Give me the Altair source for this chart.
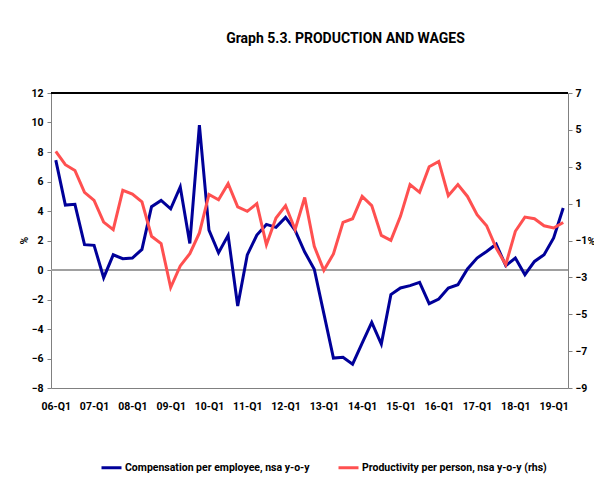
import altair as alt
import pandas as pd

years = [f"{y:02d}" for y in range(6, 20)]
quarters = [f"{y}-Q{q}" for y in years for q in range(1, 5)][:54]

comp = [7.45, 4.4, 4.45, 1.72, 1.67, -0.52, 1.03, 0.77, 0.81, 1.4,
        4.29, 4.72, 4.15, 5.63, 1.8, 9.82, 2.71, 1.17, 2.35, -2.44,
        1.02, 2.37, 3.09, 2.89, 3.57, 2.68, 1.22, 0.05, -2.96, -5.97,
        -5.92, -6.38, -4.95, -3.55, -5.02, -1.67, -1.22, -1.06, -0.84, -2.28,
        -1.97, -1.22, -1.0, 0.07, 0.81, 1.26, 1.75, 0.29, 0.81, -0.32,
        0.58, 1.04, 2.17, 4.2]

prod = [3.83, 3.11, 2.8, 1.61, 1.18, 0.0, -0.41, 1.72, 1.52, 1.09,
        -0.77, -1.17, -3.55, -2.38, -1.71, -0.59, 1.5, 1.21, 2.08, 0.82,
        0.58, 1.0, -1.23, 0.22, 0.89, -0.4, 1.33, -1.32, -2.62, -1.73,
        -0.02, 0.18, 1.39, 0.89, -0.72, -0.99, 0.31, 2.03, 1.61, 3.0,
        3.29, 1.43, 2.03, 1.39, 0.4, -0.2, -1.41, -2.31, -0.5, 0.27,
        0.18, -0.2, -0.32, -0.02]

s1 = "Compensation per employee, nsa y-o-y"
s2 = "Productivity per person, nsa y-o-y (rhs)"
x_labels = [q for q in quarters if q.endswith("Q1")]
left_ticks = list(range(-8, 13, 2))
right_ticks = list(range(-9, 8, 2))

df = pd.DataFrame({"q": quarters, "comp": comp, "prod": prod})

FONT = "Roboto"

x_enc = alt.X("q:N", sort=quarters, title=None,
              scale=alt.Scale(type="point", padding=0.5),
              axis=alt.Axis(values=x_labels, labelAngle=0, ticks=False,
                            domainColor="#808080", labelPadding=13,
                            labelOverlap=False))

color_scale = alt.Scale(domain=[s1, s2], range=["#000099", "#FF5050"])
legend = alt.Legend(title=None, orient="none", direction="horizontal",
                    legendX=49, legendY=363, symbolType="stroke",
                    symbolSize=400, symbolStrokeWidth=3, labelOffset=2,
                    columnPadding=22, labelLimit=400)

left_axis = alt.Axis(values=left_ticks, grid=False, tickSize=4,
                     domainColor="#808080", tickColor="#808080",
                     labelPadding=4, labelOverlap=False, tickCount=11,
                     titleAngle=-90, titleX=-27, titleY=147,
                     titleAlign="center", titleBaseline="middle")
left_scale = alt.Scale(domain=[-8, 12], nice=False, zero=False)

blue = alt.Chart(df).mark_line(strokeWidth=3).encode(
    x=x_enc,
    y=alt.Y("comp:Q", title="%", scale=left_scale, axis=left_axis),
    color=alt.Color("s:N", scale=color_scale, legend=legend),
).transform_calculate(s=f"'{s1}'")

zero_rule = alt.Chart(df).mark_rule(color="#A0A0A0", strokeWidth=1.5).encode(
    y=alt.YDatum(0, title="%", scale=left_scale, axis=left_axis))
top_rule = alt.Chart(df).mark_rule(color="#000000", strokeWidth=1.5).encode(
    y=alt.YDatum(12, title="%", scale=left_scale, axis=left_axis))

left = alt.layer(zero_rule, top_rule, blue)

red = alt.Chart(df).mark_line(strokeWidth=3).encode(
    x=x_enc,
    y=alt.Y("prod:Q", title="%",
            scale=alt.Scale(domain=[-9, 7], nice=False, zero=False),
            axis=alt.Axis(orient="right", values=right_ticks, grid=False,
                          tickSize=4, domainColor="#808080",
                          tickColor="#808080", labelPadding=3,
                          labelOverlap=False,
                          titleAngle=0, titleX=19, titleY=148,
                          titleAlign="left", titleBaseline="middle")),
    color=alt.Color("s:N", scale=color_scale, legend=legend),
).transform_calculate(s=f"'{s2}'")

chart = alt.layer(left, red).resolve_scale(y="independent").properties(
    width=517, height=295,
    autosize=alt.AutoSizeParams(type="none"),
    padding={"left": 43, "top": 85, "right": 26, "bottom": 100},
    title=alt.TitleParams("Graph 5.3. PRODUCTION AND WAGES", anchor="middle",
                          frame="group", dx=36, offset=42, fontSize=14,
                          font=FONT, fontWeight="bold", color="#000000"),
).configure_view(stroke=None).configure_axis(
    labelFont=FONT, labelFontSize=10.5, labelFontWeight="bold",
    labelColor="#000000", titleFont=FONT, titleFontSize=10.5,
    titleFontWeight="bold", titleColor="#000000",
).configure_legend(
    labelFont=FONT, labelFontSize=10.5, labelFontWeight="bold",
    labelColor="#000000",
)

chart.save("out.html", embed_options={"renderer": "svg", "actions": False})
